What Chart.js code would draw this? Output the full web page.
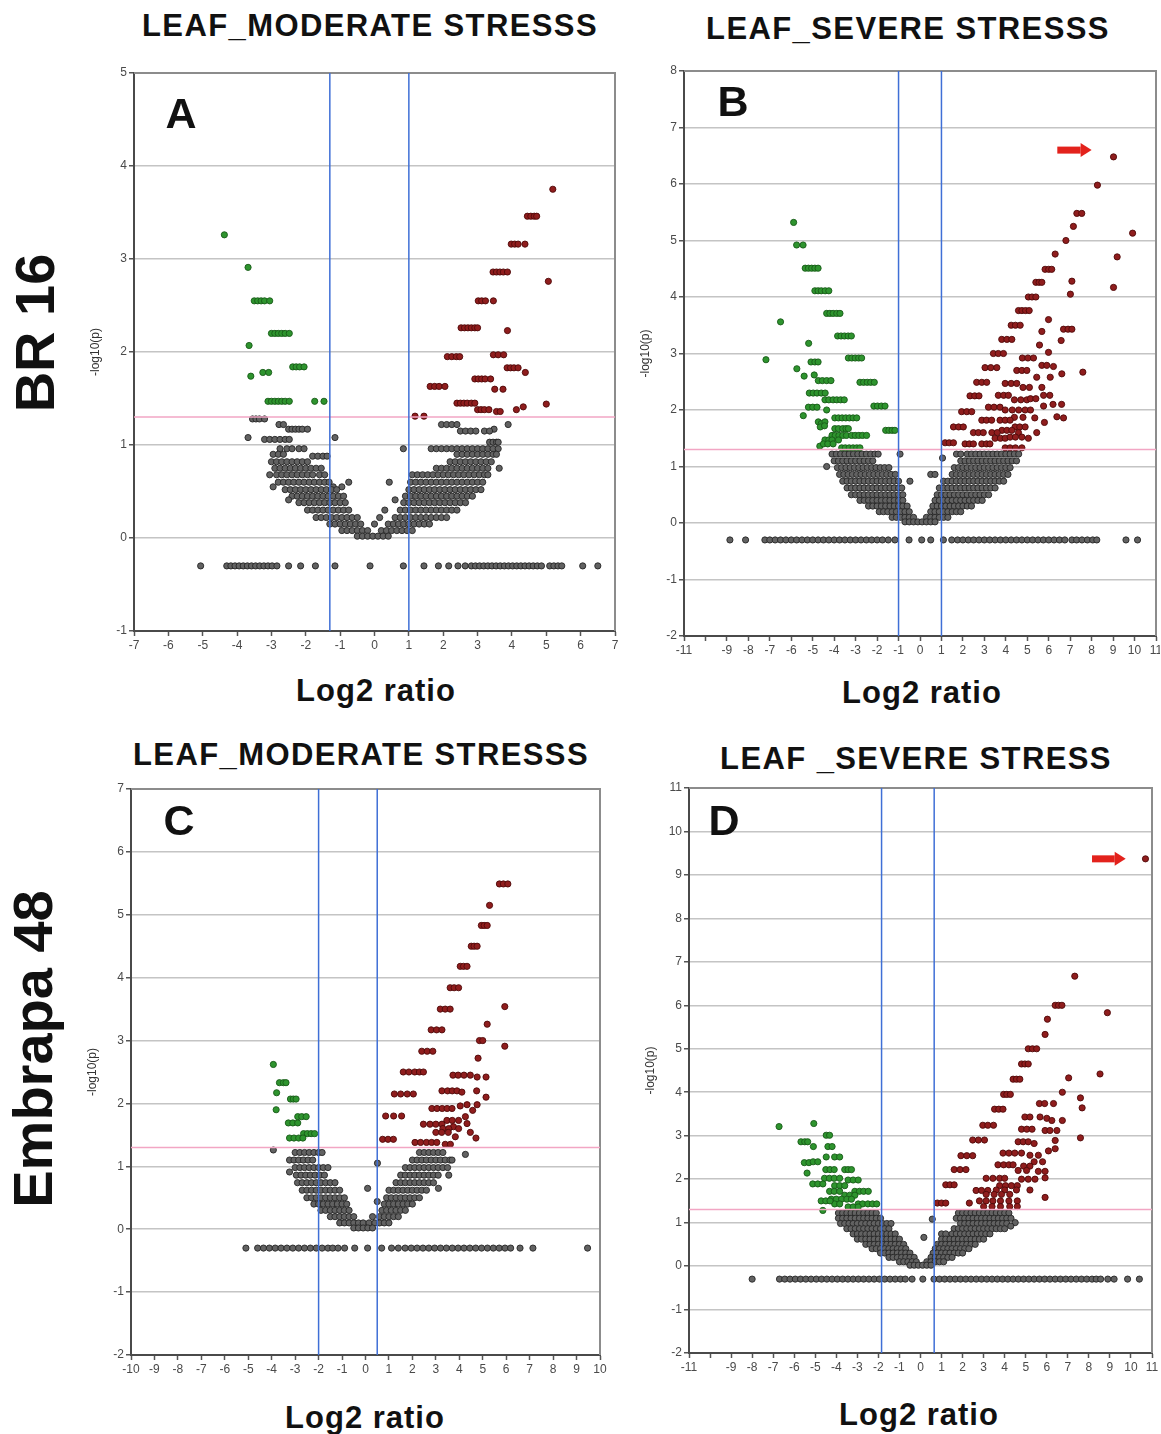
<!DOCTYPE html>
<html><head><meta charset="utf-8">
<script src="https://cdn.jsdelivr.net/npm/chart.js@4.4.1/dist/chart.umd.min.js"></script>
<style>
html,body{margin:0;padding:0;background:#fff;overflow:hidden;}
body{width:1161px;height:1434px;position:relative;font-family:'Liberation Sans',Arial,sans-serif;}
canvas{position:absolute;}
.t{position:absolute;font-weight:bold;color:#111;white-space:nowrap;transform:translate(-50%,-50%);line-height:1;}
.ttl{font-size:31px;letter-spacing:1.4px;}
.xl{font-size:31px;letter-spacing:1px;}
.row{font-size:56px;transform:translate(-50%,-50%) rotate(-90deg);}
.let{font-size:43px;}
</style></head>
<body>
<div class="t ttl" style="left:370px;top:25px">LEAF_MODERATE STRESSS</div>
<div class="t ttl" style="left:908px;top:28px">LEAF_SEVERE STRESSS</div>
<div class="t ttl" style="left:361px;top:754px">LEAF_MODERATE STRESSS</div>
<div class="t ttl" style="left:916px;top:758px">LEAF _SEVERE STRESS</div>
<div class="t xl" style="left:376px;top:690px">Log2 ratio</div>
<div class="t xl" style="left:922px;top:692px">Log2 ratio</div>
<div class="t xl" style="left:365px;top:1417px">Log2 ratio</div>
<div class="t xl" style="left:919px;top:1414px">Log2 ratio</div>
<div class="t row" style="left:35px;top:333px">BR 16</div>
<div class="t row" style="left:33px;top:1049px">Embrapa 48</div>
<canvas id="cA"></canvas><canvas id="cB"></canvas><canvas id="cC"></canvas><canvas id="cD"></canvas>
<div class="t let" style="left:181px;top:113px">A</div>
<div class="t let" style="left:733px;top:101px">B</div>
<div class="t let" style="left:179px;top:820px">C</div>
<div class="t let" style="left:724px;top:820px">D</div>
<script>
// ---------- shared ----------
const NA_Y = -0.3;            // genes without a p-value plotted below zero
const P_THRESHOLD = 1.3;      // -log10(0.05)

// ---------- Panel A : BR 16, moderate ----------
const A_vlines = [-1.3, 1];
const A_green = [[-4.37,3.26],[-3.68,2.91],[-3.5,2.55],[-3.4,2.55],[-3.3,2.55],[-3.2,2.55],[-3.05,2.55],[-3.65,2.07],[-3.0,2.2],[-2.9,2.2],[-2.8,2.2],[-2.7,2.2],[-2.6,2.2],[-2.48,2.2],[-3.6,1.74],[-3.25,1.78],[-3.08,1.78],[-2.38,1.84],[-2.28,1.84],[-2.18,1.84],[-2.05,1.84],[-3.1,1.47],[-3.0,1.47],[-2.9,1.47],[-2.8,1.47],[-2.7,1.47],[-2.6,1.47],[-2.48,1.47],[-1.74,1.47],[-1.47,1.47]];
const A_red = [[5.19,3.75],[4.45,3.46],[4.55,3.46],[4.65,3.46],[4.72,3.46],[3.98,3.16],[4.08,3.16],[4.18,3.16],[4.38,3.16],[3.45,2.86],[3.55,2.86],[3.65,2.86],[3.75,2.86],[3.87,2.86],[5.06,2.76],[3.02,2.55],[3.12,2.55],[3.23,2.55],[3.46,2.55],[2.52,2.26],[2.62,2.26],[2.72,2.26],[2.82,2.26],[2.92,2.26],[3.0,2.26],[3.87,2.23],[2.12,1.95],[2.25,1.95],[2.38,1.95],[2.48,1.95],[3.46,1.97],[3.6,1.97],[3.76,1.97],[3.86,1.83],[3.96,1.83],[4.06,1.83],[4.18,1.83],[4.39,1.78],[2.92,1.71],[3.02,1.71],[3.12,1.71],[3.22,1.71],[3.38,1.71],[1.62,1.63],[1.75,1.63],[1.88,1.63],[2.05,1.63],[3.5,1.6],[3.74,1.6],[2.4,1.45],[2.5,1.45],[2.6,1.45],[2.7,1.45],[2.82,1.45],[2.92,1.45],[5.0,1.44],[3.0,1.38],[3.1,1.38],[3.2,1.38],[3.33,1.38],[3.55,1.36],[3.66,1.36],[4.13,1.38],[4.33,1.41],[1.18,1.31],[1.44,1.31]];
const A_grayRows = [
 [1.28,-3.55,-3.45,-3.35,-3.2],
 [1.22,-2.78,-2.65,1.95,2.1,2.25,2.4,3.89],
 [1.17,-2.5,-2.4,-2.3,-2.2,-2.1,-1.95,3.48],
 [1.15,2.5,2.65,2.8,2.95,3.2,3.35],
 [1.08,-3.68,-1.15],
 [1.06,-3.2,-3.05,-2.9,-2.75,-2.6,-2.48],
 [1.03,3.35,3.45,3.55,3.6],
 [0.96,-2.75,-2.55,-2.4,-2.2,-2.05,0.84,1.65,1.8,1.95,2.1,2.25,2.4,2.55,2.7,2.85,3.0,3.15,3.3,3.45,3.6],
 [0.9,-2.95,-2.8,-2.65,2.4,2.55,2.7,2.85,3.0,3.15,3.3,3.45,3.55],
 [0.88,-1.8,-1.65,-1.5,-1.38],
 [0.82,-3.0,-2.85,-2.7,-2.55,-2.4,-2.25,-2.1,-1.95,2.2,2.35,2.5,2.65,2.8,2.95,3.1,3.25,3.4],
 [0.75,-2.9,-2.75,-2.6,-2.45,-2.3,-2.15,-2.0,-1.85,-1.7,-1.55,1.8,1.95,2.1,2.25,2.4,2.55,2.7,2.85,3.0,3.15,3.3,3.63],
 [0.68,-3.05,-2.85,-2.7,-2.55,-2.4,-2.25,-2.1,-1.95,-1.8,-1.6,-1.45,1.1,1.25,1.4,1.55,1.7,1.85,2.0,2.15,2.3,2.45,2.6,2.75,2.9,3.05,3.2,3.3],
 [0.6,-2.8,-2.65,-2.5,-2.35,-2.2,-2.05,-1.9,-1.75,-1.6,-1.45,-1.32,-0.75,0.43,1.05,1.2,1.35,1.5,1.65,1.8,1.95,2.1,2.25,2.4,2.55,2.7,2.85,3.0,3.15],
 [0.55,-2.95,-1.2,-0.95],
 [0.52,-2.6,-2.45,-2.3,-2.15,-2.0,-1.85,-1.7,-1.55,-1.4,-1.25,-1.1,1.0,1.15,1.3,1.45,1.6,1.75,1.9,2.05,2.2,2.35,2.5,2.65,2.8,2.95,3.1],
 [0.45,-2.4,-2.25,-2.1,-1.95,-1.8,-1.65,-1.5,-1.35,-1.2,-1.05,-0.9,0.9,1.05,1.2,1.35,1.5,1.65,1.8,1.95,2.1,2.25,2.4,2.55,2.7,2.85],
 [0.41,-2.5,0.6],
 [0.38,-2.2,-2.05,-1.9,-1.75,-1.6,-1.45,-1.3,-1.15,-1.0,-0.85,0.85,1.0,1.15,1.3,1.45,1.6,1.75,1.9,2.05,2.2,2.35,2.5,2.65],
 [0.3,-1.95,-1.8,-1.65,-1.5,-1.35,-1.2,-1.05,-0.9,-0.75,0.3,0.75,0.9,1.05,1.2,1.35,1.5,1.65,1.8,1.95,2.1,2.25,2.4],
 [0.22,-1.7,-1.55,-1.4,-1.25,-1.1,-0.95,-0.8,-0.65,-0.5,0.15,0.6,0.75,0.9,1.05,1.2,1.35,1.5,1.65,1.8,1.95,2.1],
 [0.15,-1.3,-1.15,-1.0,-0.85,-0.7,-0.55,-0.4,0.0,0.4,0.55,0.7,0.85,1.0,1.15,1.3,1.45,1.6],
 [0.08,-0.95,-0.8,-0.65,-0.5,-0.35,-0.2,0.2,0.35,0.5,0.65,0.8,0.95,1.1],
 [0.02,-0.5,-0.35,-0.2,-0.05,0.1,0.25,0.4]
];
const A_na = [-5.06,-4.3,-4.18,-4.06,-3.94,-3.82,-3.7,-3.58,-3.46,-3.34,-3.22,-3.1,-2.98,-2.84,-2.5,-2.15,-1.72,-1.15,-0.13,0.84,1.44,1.86,2.16,2.43,2.64,2.82,2.94,3.06,3.18,3.3,3.42,3.54,3.66,3.78,3.9,4.02,4.14,4.26,4.38,4.5,4.62,4.74,4.86,5.1,5.22,5.34,5.45,6.06,6.5];

// ---------- Panel B : BR 16, severe ----------
const B_vlines = [-1, 1];
const B_arrow = [6.4, 8.0, 6.6];
const B_green = [[-5.89,5.32],[-5.75,4.92],[-5.45,4.92],[-5.35,4.51],[-5.2,4.51],[-5.05,4.51],[-4.9,4.51],[-4.75,4.51],[-4.9,4.11],[-4.75,4.11],[-4.6,4.11],[-4.42,4.11],[-4.25,4.11],[-6.5,3.56],[-4.35,3.71],[-4.2,3.71],[-4.05,3.71],[-3.88,3.71],[-3.73,3.71],[-3.84,3.31],[-3.68,3.31],[-3.52,3.31],[-3.35,3.31],[-3.2,3.31],[-5.19,3.18],[-3.34,2.92],[-3.18,2.92],[-3.02,2.92],[-2.86,2.92],[-2.72,2.92],[-7.18,2.89],[-5.08,2.85],[-4.9,2.85],[-4.75,2.85],[-5.74,2.73],[-5.4,2.6],[-4.93,2.62],[-2.8,2.49],[-2.63,2.49],[-2.46,2.49],[-2.3,2.49],[-2.13,2.49],[-4.74,2.52],[-4.55,2.52],[-4.35,2.52],[-4.15,2.52],[-5.16,2.3],[-4.98,2.3],[-4.8,2.3],[-4.6,2.3],[-4.42,2.3],[-4.43,2.18],[-4.25,2.18],[-4.05,2.18],[-3.88,2.18],[-3.7,2.18],[-3.53,2.18],[-5.44,1.9],[-2.15,2.07],[-1.98,2.07],[-1.8,2.07],[-1.63,2.07],[-5.2,2.05],[-5.0,2.05],[-4.8,2.05],[-4.35,2.0],[-3.97,1.86],[-3.8,1.86],[-3.63,1.86],[-3.46,1.86],[-3.29,1.86],[-3.12,1.86],[-2.95,1.86],[-4.74,1.79],[-4.6,1.76],[-4.43,1.79],[-3.97,1.67],[-3.8,1.67],[-3.6,1.67],[-3.45,1.67],[-3.34,1.67],[-1.6,1.64],[-1.45,1.64],[-1.3,1.64],[-1.17,1.64],[-4.65,1.7],[-4.45,1.72],[-4.1,1.55],[-3.95,1.55],[-3.78,1.55],[-3.6,1.55],[-3.43,1.55],[-3.19,1.55],[-3.02,1.55],[-2.85,1.55],[-2.68,1.55],[-2.49,1.55],[-4.43,1.47],[-4.25,1.47],[-4.1,1.47],[-3.8,1.47],[-4.67,1.36],[-3.65,1.33],[-3.48,1.33],[-3.3,1.33],[-3.12,1.33],[-2.95,1.33],[-2.8,1.33],[-4.5,1.4],[-4.3,1.4],[-4.05,1.4]];
const B_red = [[9.02,6.48],[8.27,5.98],[9.91,5.13],[7.31,5.48],[7.54,5.48],[9.19,4.71],[7.15,5.25],[6.8,5.0],[6.3,4.76],[5.83,4.49],[6.0,4.49],[6.14,4.49],[7.08,4.28],[9.02,4.17],[7.01,4.05],[5.4,4.26],[5.55,4.26],[5.68,4.26],[5.05,4.0],[5.22,4.0],[5.4,4.0],[4.59,3.76],[4.75,3.76],[4.92,3.76],[5.09,3.76],[5.99,3.6],[4.25,3.5],[4.45,3.5],[4.67,3.5],[6.69,3.43],[6.9,3.43],[7.08,3.43],[5.68,3.39],[3.81,3.25],[4.05,3.25],[4.28,3.25],[6.58,3.23],[5.57,3.15],[3.42,3.0],[3.65,3.0],[3.89,3.0],[5.99,3.02],[4.77,2.92],[5.03,2.92],[5.29,2.92],[3.03,2.75],[3.3,2.75],[3.58,2.75],[5.68,2.79],[5.91,2.79],[6.22,2.77],[7.59,2.67],[4.51,2.7],[4.75,2.7],[4.98,2.7],[6.61,2.64],[5.44,2.58],[6.07,2.58],[2.64,2.49],[2.88,2.49],[3.11,2.49],[3.97,2.47],[4.25,2.47],[4.51,2.47],[4.8,2.4],[5.1,2.4],[5.68,2.4],[2.33,2.25],[2.55,2.25],[2.75,2.25],[3.65,2.26],[3.9,2.26],[4.12,2.26],[5.76,2.26],[6.05,2.26],[4.4,2.18],[4.7,2.18],[4.98,2.18],[5.15,2.2],[5.4,2.2],[6.2,2.1],[6.6,2.1],[3.19,2.05],[3.45,2.05],[3.73,2.05],[5.76,2.07],[1.94,1.97],[2.18,1.97],[2.41,1.97],[3.97,2.0],[4.3,2.0],[4.6,2.0],[4.9,2.0],[5.15,2.0],[6.38,1.88],[6.69,1.86],[4.4,1.87],[4.8,1.87],[2.88,1.82],[3.1,1.82],[3.34,1.82],[3.73,1.82],[3.97,1.82],[4.2,1.82],[5.35,1.86],[5.8,1.78],[1.56,1.7],[1.8,1.7],[2.02,1.7],[4.43,1.7],[4.65,1.7],[4.9,1.7],[3.82,1.64],[4.05,1.64],[4.28,1.64],[2.49,1.6],[2.72,1.6],[2.95,1.6],[3.35,1.6],[3.6,1.6],[4.59,1.6],[5.44,1.6],[3.5,1.5],[3.75,1.5],[3.97,1.5],[4.2,1.52],[4.45,1.52],[4.75,1.52],[5.05,1.5],[1.17,1.42],[1.36,1.42],[1.56,1.42],[2.1,1.4],[2.3,1.4],[2.49,1.4],[2.88,1.4],[3.1,1.4],[3.26,1.4],[3.97,1.33],[4.2,1.33],[4.45,1.33],[4.75,1.33]];
const B_grayRows = [
 [1.22,-4.1,-3.9,-3.7,-3.5,-3.3,-3.1,-2.9,-2.7,-2.5,-2.3,-2.1,-1.95,-0.93,1.7,1.9,2.2,2.4,2.6,2.8,3.0,3.2,3.4,3.6,3.8,4.0,4.2,4.4,4.6],
 [1.15,1.05],
 [1.1,-4.0,-3.8,-3.6,-3.4,-3.2,-3.0,-2.8,-2.6,-2.4,-2.2,1.9,2.1,2.3,2.5,2.7,2.9,3.1,3.3,3.5,3.7,3.9,4.1,4.3,4.5],
 [1.0,-4.35],
 [0.98,-3.85,-3.65,-3.45,-3.25,-3.05,-2.85,-2.65,-2.45,-2.25,-2.05,-1.85,-1.65,-1.45,1.6,1.8,2.0,2.2,2.4,2.6,2.8,3.0,3.2,3.4,3.6,3.8,4.0,4.2],
 [0.86,-3.75,-3.55,-3.35,-3.15,-2.95,-2.75,-2.55,-2.35,-2.15,-1.95,-1.75,-1.55,-1.35,-1.15,0.5,0.7,1.5,1.7,1.9,2.1,2.3,2.5,2.7,2.9,3.1,3.3,3.5,3.7,3.9,4.1],
 [0.74,-3.6,-3.4,-3.2,-3.0,-2.8,-2.6,-2.4,-2.2,-2.0,-1.8,-1.6,-1.4,-1.2,-1.0,-0.47,1.1,1.3,1.5,1.7,1.9,2.1,2.3,2.5,2.7,2.9,3.1,3.3,3.5,3.7,3.9],
 [0.62,-3.4,-3.2,-3.0,-2.8,-2.6,-2.4,-2.2,-2.0,-1.8,-1.6,-1.4,-1.2,-1.0,-0.85,0.9,1.1,1.3,1.5,1.7,1.9,2.1,2.3,2.5,2.7,2.9,3.1,3.3,3.5],
 [0.5,-3.2,-3.0,-2.8,-2.6,-2.4,-2.2,-2.0,-1.8,-1.6,-1.4,-1.2,-1.0,-0.8,0.8,1.0,1.2,1.4,1.6,1.8,2.0,2.2,2.4,2.6,2.8,3.0,3.2],
 [0.4,-2.8,-2.6,-2.4,-2.2,-2.0,-1.8,-1.6,-1.4,-1.2,-1.0,-0.8,0.7,0.9,1.1,1.3,1.5,1.7,1.9,2.1,2.3,2.5,2.7,2.9],
 [0.3,-2.4,-2.2,-2.0,-1.8,-1.6,-1.4,-1.2,-1.0,-0.8,-0.6,0.6,0.8,1.0,1.2,1.4,1.6,1.8,2.0,2.2,2.4],
 [0.2,-1.9,-1.7,-1.5,-1.3,-1.1,-0.9,-0.7,-0.5,0.5,0.7,0.9,1.1,1.3,1.5,1.7,1.9],
 [0.1,-1.3,-1.1,-0.9,-0.7,-0.5,-0.3,0.3,0.5,0.7,0.9,1.1,1.3],
 [0.02,-0.7,-0.5,-0.3,-0.1,0.1,0.3,0.5,0.7]
];
const B_na = [-8.86,-8.13,-7.23,-7.0,-6.75,-6.5,-6.25,-6.0,-5.75,-5.5,-5.25,-5.0,-4.75,-4.5,-4.25,-4.0,-3.75,-3.5,-3.25,-3.0,-2.75,-2.5,-2.25,-2.0,-1.75,-1.48,-1.17,-0.51,0.08,0.5,1.09,1.48,1.75,2.0,2.25,2.5,2.75,3.0,3.25,3.5,3.75,4.0,4.25,4.5,4.75,5.0,5.25,5.5,5.75,6.0,6.25,6.5,6.75,7.08,7.3,7.55,7.8,8.05,8.24,9.6,10.14];

// ---------- Panel C : Embrapa 48, moderate ----------
const C_vlines = [-2, 0.5];
const C_green = [[-3.93,2.62],[-3.67,2.33],[-3.5,2.33],[-3.39,2.33],[-3.79,2.17],[-3.2,2.07],[-3.08,2.07],[-2.96,2.07],[-3.81,1.9],[-2.89,1.79],[-2.72,1.79],[-2.53,1.79],[-3.29,1.69],[-3.1,1.69],[-2.89,1.69],[-2.64,1.52],[-2.48,1.52],[-2.32,1.52],[-2.17,1.52],[-3.24,1.45],[-3.05,1.45],[-2.85,1.45],[-2.67,1.45]];
const C_red = [[5.71,5.49],[5.88,5.49],[6.07,5.49],[5.29,5.15],[4.94,4.83],[5.06,4.83],[5.19,4.83],[4.51,4.5],[4.63,4.5],[4.76,4.5],[4.04,4.18],[4.18,4.18],[4.33,4.18],[3.61,3.84],[3.78,3.84],[3.97,3.84],[5.94,3.54],[3.19,3.5],[3.4,3.5],[3.61,3.5],[5.19,3.26],[2.8,3.17],[3.03,3.17],[3.26,3.17],[4.86,3.0],[5.0,3.0],[5.94,2.91],[2.4,2.83],[2.63,2.83],[2.87,2.83],[4.8,2.72],[1.61,2.5],[1.85,2.5],[2.1,2.5],[2.3,2.5],[2.47,2.5],[3.73,2.45],[3.95,2.45],[4.2,2.45],[4.47,2.45],[4.76,2.42],[5.14,2.42],[3.26,2.2],[3.5,2.2],[3.7,2.2],[3.9,2.2],[4.11,2.18],[4.74,2.2],[1.23,2.15],[1.5,2.15],[1.78,2.15],[2.04,2.15],[5.14,2.1],[2.83,1.92],[3.05,1.92],[3.27,1.92],[3.48,1.92],[3.69,1.92],[4.04,1.96],[4.33,1.98],[4.76,1.98],[4.57,1.89],[4.26,1.79],[0.86,1.8],[1.2,1.8],[1.54,1.8],[3.47,1.73],[3.7,1.73],[3.97,1.73],[2.47,1.67],[2.75,1.67],[3.0,1.67],[3.26,1.67],[3.75,1.63],[4.33,1.68],[3.3,1.6],[3.55,1.6],[3.97,1.6],[3.0,1.54],[3.25,1.54],[3.53,1.54],[4.47,1.54],[3.83,1.47],[4.71,1.45],[0.73,1.43],[0.96,1.43],[1.19,1.43],[2.11,1.38],[2.35,1.38],[2.6,1.38],[2.82,1.38],[3.04,1.38],[3.4,1.35],[3.62,1.35]];
const C_grayRows = [
 [1.26,-3.93],
 [1.22,-3.0,-2.8,-2.6,-2.4,-2.2,-2.0,-1.85,2.3,2.5,2.7,2.9,3.1,3.3],
 [1.19,4.26],
 [1.1,-3.24,-3.05,-2.85,-2.65,-2.45,-2.25,2.0,2.2,2.4,2.6,2.8,3.0,3.2,3.4,3.6,3.69],
 [1.05,0.51],
 [0.98,-3.0,-2.8,-2.6,-2.4,-2.2,-2.0,-1.8,-1.6,1.7,1.9,2.1,2.3,2.5,2.7,2.9,3.1,3.3,3.5],
 [0.91,-3.24],
 [0.86,-2.95,-2.75,-2.55,-2.35,-2.15,-1.95,-1.75,1.5,1.7,1.9,2.1,2.3,2.5,2.7,2.9,3.1,3.55],
 [0.74,-2.9,-2.7,-2.5,-2.3,-2.1,-1.9,-1.7,-1.5,-1.3,1.3,1.5,1.7,1.9,2.1,2.3,2.5,2.7,2.9],
 [0.65,0.09,3.11],
 [0.62,-2.7,-2.5,-2.3,-2.1,-1.9,-1.7,-1.5,-1.3,-1.1,1.0,1.2,1.4,1.6,1.8,2.0,2.2,2.4,2.6],
 [0.5,-2.5,-2.3,-2.1,-1.9,-1.7,-1.5,-1.3,-1.1,-0.9,0.9,1.1,1.3,1.5,1.7,1.9,2.1,2.3],
 [0.44,0.5],
 [0.4,-2.2,-2.0,-1.8,-1.6,-1.4,-1.2,-1.0,-0.8,0.8,1.0,1.2,1.4,1.6,1.8,2.0],
 [0.3,-1.9,-1.7,-1.5,-1.3,-1.1,-0.9,-0.7,0.7,0.9,1.1,1.3,1.5,1.7],
 [0.2,-1.5,-1.3,-1.1,-0.9,-0.7,-0.5,0.3,0.6,0.8,1.0,1.2,1.4],
 [0.1,-1.1,-0.9,-0.7,-0.5,-0.3,-0.1,0.15,0.4,0.6,0.8,1.0],
 [0.02,-0.5,-0.3,-0.1,0.1,0.3]
];
const C_na = [-5.1,-4.6,-4.35,-4.1,-3.85,-3.6,-3.35,-3.1,-2.85,-2.6,-2.35,-2.1,-1.85,-1.6,-1.4,-1.17,-0.89,-0.46,0.09,0.69,1.11,1.4,1.69,1.95,2.2,2.45,2.7,2.95,3.2,3.45,3.7,3.95,4.2,4.45,4.7,4.95,5.2,5.45,5.7,5.95,6.19,6.59,7.14,9.47];

// ---------- Panel D : Embrapa 48, severe ----------
const D_vlines = [-1.85, 0.65];
const D_arrow = [8.15, 9.75, 9.37];
const D_green = [[-6.72,3.21],[-5.07,3.28],[-4.48,3.01],[-4.32,3.01],[-5.68,2.86],[-5.5,2.86],[-5.36,2.86],[-5.09,2.75],[-4.4,2.75],[-4.2,2.75],[-4.08,2.51],[-3.84,2.51],[-4.48,2.51],[-5.52,2.38],[-5.3,2.38],[-5.1,2.4],[-4.88,2.4],[-4.5,2.22],[-4.3,2.22],[-4.1,2.22],[-3.6,2.22],[-3.44,2.22],[-3.28,2.22],[-5.39,2.14],[-4.56,2.02],[-4.33,2.02],[-4.1,2.02],[-3.84,2.02],[-3.44,1.98],[-3.2,1.98],[-2.96,1.98],[-5.12,1.89],[-4.88,1.89],[-4.64,1.89],[-4.08,1.85],[-3.84,1.85],[-3.6,1.85],[-4.32,1.72],[-4.1,1.72],[-3.84,1.72],[-3.12,1.72],[-2.9,1.72],[-2.7,1.72],[-2.48,1.72],[-3.6,1.63],[-3.36,1.63],[-3.12,1.63],[-4.24,1.54],[-4.0,1.54],[-3.75,1.54],[-3.5,1.54],[-3.28,1.54],[-2.96,1.43],[-2.75,1.43],[-2.5,1.43],[-2.28,1.43],[-2.08,1.43],[-4.08,1.43],[-3.84,1.43],[-3.44,1.36],[-3.2,1.36],[-2.96,1.36],[-4.64,1.28],[-4.72,1.5],[-4.5,1.5],[-4.3,1.5]];
const D_red = [[10.69,9.37],[7.33,6.67],[6.4,6.0],[6.56,6.0],[6.72,6.0],[8.88,5.83],[6.03,5.68],[5.92,5.33],[5.12,5.0],[5.32,5.0],[5.52,5.0],[4.8,4.65],[4.96,4.65],[5.12,4.65],[4.4,4.3],[4.56,4.3],[4.72,4.3],[7.04,4.33],[8.53,4.42],[6.74,4.0],[3.95,3.95],[4.1,3.95],[4.27,3.95],[7.6,3.87],[5.65,3.74],[5.9,3.74],[6.32,3.74],[7.68,3.64],[3.52,3.61],[3.72,3.61],[3.92,3.61],[4.96,3.43],[5.2,3.43],[5.68,3.43],[6.0,3.4],[6.24,3.35],[6.74,3.35],[2.96,3.24],[3.2,3.24],[3.47,3.24],[4.8,3.15],[5.05,3.15],[5.3,3.15],[5.92,3.12],[6.15,3.12],[6.48,3.12],[7.6,2.95],[2.48,2.9],[2.75,2.9],[3.04,2.9],[6.4,2.89],[4.64,2.86],[4.88,2.86],[5.12,2.86],[5.4,2.82],[6.4,2.7],[6.08,2.65],[1.92,2.54],[2.2,2.54],[2.48,2.54],[3.92,2.6],[4.2,2.6],[4.48,2.6],[4.8,2.6],[5.2,2.55],[5.6,2.55],[5.4,2.4],[5.8,2.4],[3.68,2.33],[3.95,2.33],[4.2,2.33],[4.4,2.33],[4.9,2.3],[5.2,2.3],[1.6,2.22],[1.88,2.22],[2.16,2.22],[4.64,2.2],[5.04,2.2],[5.6,2.18],[5.92,2.18],[3.12,2.02],[3.44,2.02],[3.76,2.02],[4.0,2.02],[4.8,2.0],[5.12,2.0],[5.44,2.0],[5.92,2.03],[1.2,1.87],[1.4,1.87],[1.6,1.87],[3.76,1.85],[4.04,1.85],[4.32,1.85],[4.6,1.85],[2.64,1.74],[2.9,1.74],[3.2,1.74],[3.6,1.75],[4.0,1.75],[4.56,1.75],[5.2,1.75],[3.12,1.65],[3.5,1.65],[3.85,1.65],[4.24,1.65],[5.92,1.58],[2.8,1.5],[3.12,1.5],[3.44,1.5],[3.8,1.5],[4.2,1.5],[4.6,1.5],[0.8,1.45],[1.0,1.45],[1.2,1.45],[2.32,1.45],[3.0,1.37],[3.4,1.37],[3.8,1.37],[4.24,1.37],[4.6,1.37]];
const D_grayRows = [
 [1.22,-3.9,-3.7,-3.5,-3.3,-3.1,-2.9,-2.7,-2.5,-2.3,-2.1,1.8,2.0,2.2,2.4,2.6,2.8,3.0,3.2,3.4,3.6,3.8,4.0,4.2],
 [1.1,-3.9,-3.7,-3.5,-3.3,-3.1,-2.9,-2.7,-2.5,-2.3,-2.1,-1.9,1.7,1.9,2.1,2.3,2.5,2.7,2.9,3.1,3.3,3.5,3.7,3.9,4.1,4.3],
 [1.08,0.56],
 [1.0,4.5],
 [0.98,-3.8,-3.6,-3.4,-3.2,-3.0,-2.8,-2.6,-2.4,-2.2,-2.0,-1.8,-1.6,-1.4,1.9,2.1,2.3,2.5,2.7,2.9,3.1,3.3,3.5,3.7,3.9,4.1],
 [0.92,4.29],
 [0.86,-3.5,-3.3,-3.1,-2.9,-2.7,-2.5,-2.3,-2.1,-1.9,-1.7,-1.5,1.6,1.8,2.0,2.2,2.4,2.6,2.8,3.0,3.2,3.4,3.6,3.8,4.0],
 [0.74,-3.2,-3.0,-2.8,-2.6,-2.4,-2.2,-2.0,-1.8,-1.6,-1.4,-1.2,1.0,1.2,1.5,1.7,1.9,2.1,2.3,2.5,2.7,2.9,3.1,3.3],
 [0.66,0.16],
 [0.62,-3.0,-2.8,-2.6,-2.4,-2.2,-2.0,-1.8,-1.6,-1.4,-1.2,-1.0,1.0,1.2,1.4,1.6,1.8,2.0,2.2,2.4,2.6,2.8,3.0],
 [0.5,-2.6,-2.4,-2.2,-2.0,-1.8,-1.6,-1.4,-1.2,-1.0,-0.8,0.8,1.0,1.2,1.4,1.6,1.8,2.0,2.2,2.4,2.6],
 [0.4,-2.3,-2.1,-1.9,-1.7,-1.5,-1.3,-1.1,-0.9,-0.7,0.7,0.9,1.1,1.3,1.5,1.7,1.9,2.1,2.3],
 [0.3,-1.9,-1.7,-1.5,-1.3,-1.1,-0.9,-0.7,-0.5,0.6,0.8,1.0,1.2,1.4,1.6,1.8,2.0],
 [0.2,-1.5,-1.3,-1.1,-0.9,-0.7,-0.5,-0.3,0.5,0.7,0.9,1.1,1.3,1.5],
 [0.1,-1.0,-0.8,-0.6,-0.4,-0.2,0.3,0.5,0.7,0.9,1.1],
 [0.02,-0.5,-0.3,-0.1,0.1,0.3,0.5]
];
const D_na = [-8.0,-6.7,-6.45,-6.2,-5.95,-5.7,-5.45,-5.2,-4.95,-4.7,-4.45,-4.2,-3.95,-3.7,-3.45,-3.2,-2.95,-2.7,-2.45,-2.2,-1.95,-1.7,-1.45,-1.2,-0.95,-0.72,-0.4,0.11,0.64,0.9,1.15,1.4,1.65,1.9,2.15,2.4,2.65,2.9,3.15,3.4,3.65,3.9,4.15,4.4,4.65,4.9,5.15,5.4,5.65,5.9,6.15,6.4,6.65,6.9,7.15,7.4,7.65,7.9,8.15,8.35,8.56,8.9,9.2,9.84,10.4];

// ---------- helpers ----------
const pairs = a => a.map(p => ({x:p[0], y:p[1]}));
const rowsToPts = rows => { const o=[]; rows.forEach(r => { for (let i=1;i<r.length;i++) o.push({x:r[i], y:r[0]}); }); return o; };
const naPts = xs => xs.map(x => ({x, y:NA_Y}));

const framePlugin = {
  id:'frame',
  beforeDatasetsDraw(chart){
    const {ctx, chartArea:a} = chart;
    ctx.save(); ctx.strokeStyle='#8c8c8c'; ctx.lineWidth=2;
    ctx.beginPath(); ctx.moveTo(a.left,a.top); ctx.lineTo(a.right,a.top); ctx.lineTo(a.right,a.bottom); ctx.stroke();
    ctx.restore();
  }
};
const arrowPlugin = {
  id:'redArrow',
  afterDatasetsDraw(chart, args, opts){
    if (!opts || !opts.arrow) return;
    const [x0,x1,yv] = opts.arrow;
    const sx = chart.scales.x, sy = chart.scales.y;
    const px0 = sx.getPixelForValue(x0), px1 = sx.getPixelForValue(x1), py = sy.getPixelForValue(yv);
    const ctx = chart.ctx, head = 11;
    ctx.save(); ctx.fillStyle='#e3221c';
    ctx.fillRect(px0, py-3.5, px1-px0-head, 7);
    ctx.beginPath(); ctx.moveTo(px1-head, py-7); ctx.lineTo(px1, py); ctx.lineTo(px1-head, py+7); ctx.closePath(); ctx.fill();
    ctx.restore();
  }
};

const YW = 46, XH = 28, PT = 10;
const TICK_FONT = {family:"'Liberation Sans', Arial, sans-serif", size:12};

function makePanel(id, s){
  const [l,t,r,b] = s.box;
  const PR = s.pr;
  const cv = document.getElementById(id);
  cv.width = (r-l) + YW + PR; cv.height = (b-t) + PT + XH;
  cv.style.left = (l-YW)+'px'; cv.style.top = (t-PT)+'px';
  const pt = {pointRadius:3.1, pointBorderWidth:0.9, pointHoverRadius:3};
  const vline = (xv) => ({data:[{x:xv,y:s.yMin},{x:xv,y:s.yMax}], showLine:true, pointRadius:0, borderColor:'#3f6fd6', borderWidth:1.5, fill:false, order:1});
  new Chart(cv.getContext('2d'), {
    type:'scatter',
    data:{datasets:[
      Object.assign({data:rowsToPts(s.rows).concat(naPts(s.na)), backgroundColor:'#626262', borderColor:'#262626', order:5}, pt),
      Object.assign({data:pairs(s.green), backgroundColor:'#2e942e', borderColor:'#175a17', order:3}, pt),
      Object.assign({data:pairs(s.red), backgroundColor:'#8f1d1d', borderColor:'#4f0909', order:3}, pt),
      vline(s.vlines[0]), vline(s.vlines[1]),
      {data:[{x:s.xMin,y:P_THRESHOLD},{x:s.xMax,y:P_THRESHOLD}], showLine:true, pointRadius:0, borderColor:'#f2a6c4', borderWidth:1.5, fill:false, order:2}
    ]},
    options:{
      responsive:false, animation:false, events:[],
      layout:{padding:{top:PT, right:PR, left:0, bottom:0}},
      plugins:{legend:{display:false}, tooltip:{enabled:false}, redArrow:{arrow:s.arrow}},
      scales:{
        x:{type:'linear', min:s.xMin, max:s.xMax,
           ticks:{stepSize:1, autoSkip:false, maxRotation:0, font:TICK_FONT, color:'#4a4a4a', padding:2,
                  callback:v => (s.skip.includes(v) ? '' : String(v))},
           grid:{drawOnChartArea:false, tickLength:5, tickColor:'#555', tickWidth:1.5},
           border:{color:'#4a4a4a', width:2},
           afterFit(sc){ sc.height = XH; sc.paddingLeft = 0; sc.paddingRight = 0; }},
        y:{type:'linear', min:s.yMin, max:s.yMax,
           ticks:{stepSize:1, font:TICK_FONT, color:'#4a4a4a', padding:2},
           grid:{color:'#c4c4c4', lineWidth:1.5, tickLength:5, tickColor:'#555', tickWidth:1.5},
           border:{color:'#4a4a4a', width:2},
           title:{display:true, text:'-log10(p)', font:{family:"'Liberation Sans', Arial, sans-serif", size:12}, color:'#333', padding:{top:0,bottom:0}},
           afterFit(sc){ sc.width = YW; sc.paddingTop = 0; sc.paddingBottom = 0; }}
      }
    },
    plugins:[framePlugin, arrowPlugin]
  });
}

makePanel('cA', {xMin:-7,xMax:7,yMin:-1,yMax:5, box:[134,73,615,631], pr:10, vlines:A_vlines, green:A_green, red:A_red, rows:A_grayRows, na:A_na, arrow:null, skip:[]});
makePanel('cB', {xMin:-11,xMax:11,yMin:-2,yMax:8, box:[684,71,1156,636], pr:4, vlines:B_vlines, green:B_green, red:B_red, rows:B_grayRows, na:B_na, arrow:B_arrow, skip:[-10]});
makePanel('cC', {xMin:-10,xMax:10,yMin:-2,yMax:7, box:[131,789,600,1355], pr:10, vlines:C_vlines, green:C_green, red:C_red, rows:C_grayRows, na:C_na, arrow:null, skip:[]});
makePanel('cD', {xMin:-11,xMax:11,yMin:-2,yMax:11, box:[689,788,1152,1353], pr:8, vlines:D_vlines, green:D_green, red:D_red, rows:D_grayRows, na:D_na, arrow:D_arrow, skip:[-10]});
</script>
</body></html>
